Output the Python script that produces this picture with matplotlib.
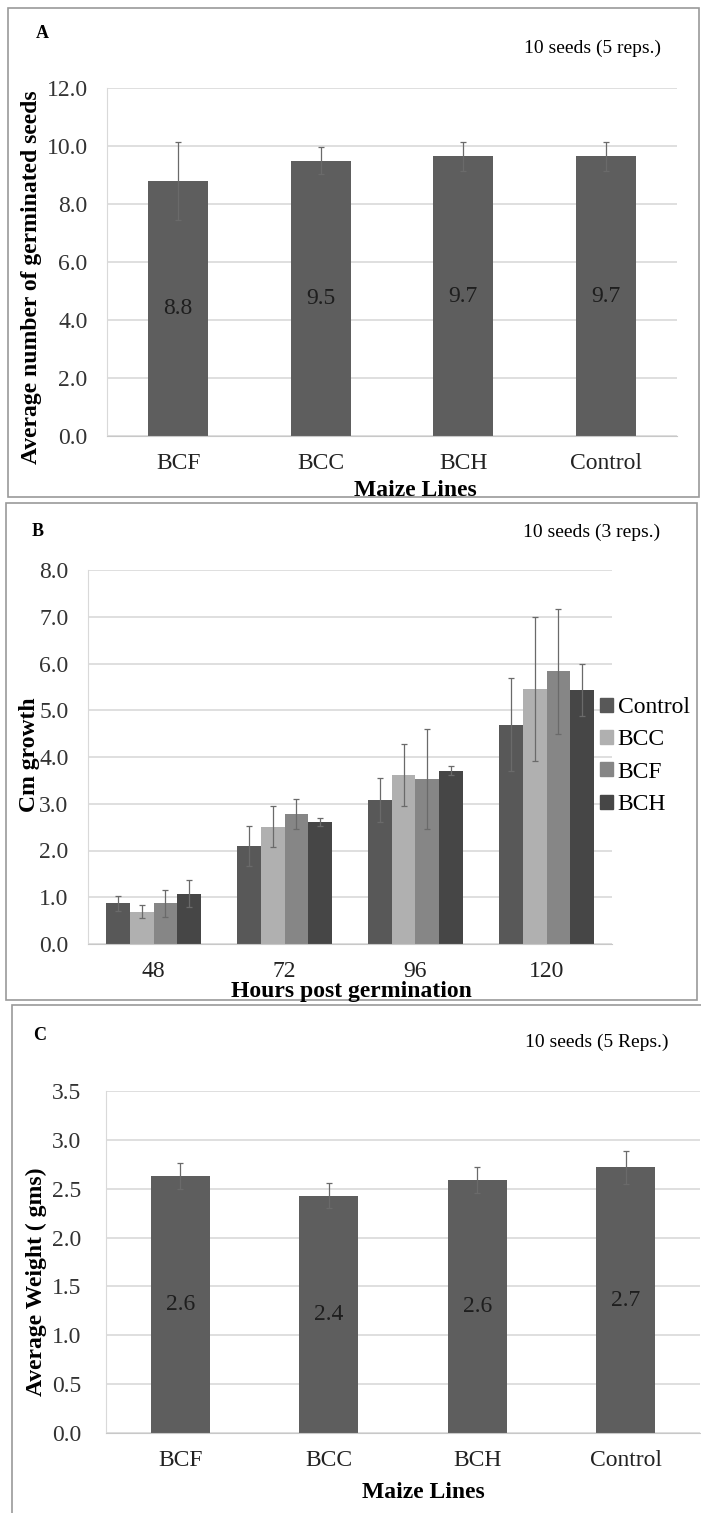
import matplotlib
matplotlib.use("Agg")
import matplotlib.pyplot as plt
from matplotlib.patches import Rectangle, Patch
import numpy as np

plt.rcParams['font.family'] = ['Liberation Serif', 'DejaVu Serif']

# panel A - germination
lines_a = ['BCF', 'BCC', 'BCH', 'Control']
germ_mean = [8.8, 9.5, 9.65, 9.65]
germ_err = [1.35, 0.45, 0.5, 0.5]
germ_lbl = ['8.8', '9.5', '9.7', '9.7']

# panel B - growth
hours = ['48', '72', '96', '120']
series_b = ['Control', 'BCC', 'BCF', 'BCH']
grow_control = [0.87, 2.10, 3.08, 4.69]
grow_bcc = [0.69, 2.51, 3.62, 5.45]
grow_bcf = [0.87, 2.78, 3.53, 5.83]
grow_bch = [1.08, 2.61, 3.71, 5.44]
err_control = [0.16, 0.43, 0.47, 1.00]
err_bcc = [0.14, 0.44, 0.66, 1.54]
err_bcf = [0.29, 0.33, 1.07, 1.34]
err_bch = [0.28, 0.08, 0.10, 0.56]
colors_b = ['#585858', '#b0b0b0', '#868686', '#464646']

# panel C - weight
lines_c = ['BCF', 'BCC', 'BCH', 'Control']
weight_mean = [2.63, 2.43, 2.59, 2.72]
weight_err = [0.13, 0.13, 0.13, 0.17]
weight_lbl = ['2.6', '2.4', '2.6', '2.7']

W, H = 701, 1513
fig = plt.figure(figsize=(W / 100, H / 100), dpi=100)


def px_axes(x0, y0, x1, y1):
    return fig.add_axes([x0 / W, 1 - y1 / H, (x1 - x0) / W, (y1 - y0) / H])


def ftext(x, y, s, **kw):
    fig.text(x / W, 1 - y / H, s, **kw)


def frame(x0, y0, x1, y1):
    fig.patches.append(Rectangle((x0 / W, 1 - y1 / H), (x1 - x0) / W, (y1 - y0) / H,
                                 transform=fig.transFigure, fill=False,
                                 edgecolor='#9a9a9a', lw=1.2))


def style(ax, ymax, step, pady):
    ax.set_ylim(0, ymax)
    ax.set_yticks(np.arange(0, ymax + step / 2, step))
    ax.set_yticklabels(['%.1f' % v for v in np.arange(0, ymax + step / 2, step)])
    ax.grid(axis='y', color='#d9d9d9', lw=1.2)
    ax.set_axisbelow(True)
    for s in ['top', 'right']:
        ax.spines[s].set_visible(False)
    ax.spines['left'].set_color('#d9d9d9')
    ax.spines['bottom'].set_color('#c8c8c8')
    ax.tick_params(axis='y', length=0, labelsize=17, pad=pady, colors='#333333')
    ax.tick_params(axis='x', length=0, labelsize=17, pad=12, colors='#222222')


frame(8, 8, 699, 497)
frame(6, 503, 697, 1000)
frame(12, 1005, 705, 1520)

# ---- A
ax = px_axes(107, 88, 677, 436)
x = np.arange(len(lines_a))
ax.bar(x, germ_mean, width=0.42, color='#5e5e5e', yerr=germ_err,
       error_kw=dict(ecolor='#6a6a6a', elinewidth=0.9, capsize=2, capthick=0.9))
for i, (m, l) in enumerate(zip(germ_mean, germ_lbl)):
    ax.text(i, m / 2, l, ha='center', va='center', fontsize=17, color='#1e1e1e')
ax.set_xlim(-0.5, len(lines_a) - 0.5)
ax.set_xticks(x)
ax.set_xticklabels(lines_a)
style(ax, 12, 2, 14)
ftext(42, 33, 'A', fontsize=13, fontweight='bold', ha='center', va='center')
ftext(592, 48, '10 seeds (5 reps.)', fontsize=14, ha='center', va='center')
ftext(32, 277, 'Average number of germinated seeds', fontsize=17, fontweight='bold',
      rotation=90, ha='center', va='center')
ftext(415, 490, 'Maize Lines', fontsize=17, fontweight='bold', ha='center', va='center')

# ---- B
ax = px_axes(88, 570, 612, 944)
x = np.arange(len(hours))
bw = 0.18
means = [grow_control, grow_bcc, grow_bcf, grow_bch]
errs = [err_control, err_bcc, err_bcf, err_bch]
for k in range(4):
    ax.bar(x + (k - 1.5) * bw, means[k], width=bw, color=colors_b[k], yerr=errs[k],
           label=series_b[k],
           error_kw=dict(ecolor='#6a6a6a', elinewidth=0.9, capsize=2, capthick=0.9))
ax.set_xlim(-0.5, len(hours) - 0.5)
ax.set_xticks(x)
ax.set_xticklabels(hours)
style(ax, 8, 1, 14)
handles = [Patch(color=c) for c in colors_b]
fig.legend(handles, series_b, loc='upper left', bbox_to_anchor=(600 / W, 1 - 697 / H),
           frameon=False, fontsize=17, handlelength=0.55, handleheight=0.55,
           handletextpad=0.2, labelspacing=0.48, borderpad=0, borderaxespad=0)
ftext(38, 532, 'B', fontsize=13, fontweight='bold', ha='center', va='center')
ftext(592, 532, '10 seeds (3 reps.)', fontsize=14, ha='center', va='center')
ftext(29, 755, 'Cm growth', fontsize=17, fontweight='bold',
      rotation=90, ha='center', va='center')
ftext(351, 992, 'Hours post germination', fontsize=17, fontweight='bold',
      ha='center', va='center')

# ---- C
ax = px_axes(106, 1091, 700, 1433)
x = np.arange(len(lines_c))
ax.bar(x, weight_mean, width=0.4, color='#5e5e5e', yerr=weight_err,
       error_kw=dict(ecolor='#6a6a6a', elinewidth=0.9, capsize=2, capthick=0.9))
for i, (m, l) in enumerate(zip(weight_mean, weight_lbl)):
    ax.text(i, m / 2, l, ha='center', va='center', fontsize=17, color='#1e1e1e')
ax.set_xlim(-0.5, len(lines_c) - 0.5)
ax.set_xticks(x)
ax.set_xticklabels(lines_c)
style(ax, 3.5, 0.5, 18)
ftext(40, 1035, 'C', fontsize=13, fontweight='bold', ha='center', va='center')
ftext(597, 1042, '10 seeds (5 Reps.)', fontsize=14, ha='center', va='center')
ftext(36, 1282, 'Average Weight ( gms)', fontsize=17, fontweight='bold',
      rotation=90, ha='center', va='center')
ftext(423, 1493, 'Maize Lines', fontsize=17, fontweight='bold', ha='center', va='center')

fig.savefig('out.png', dpi=100, facecolor='white')
